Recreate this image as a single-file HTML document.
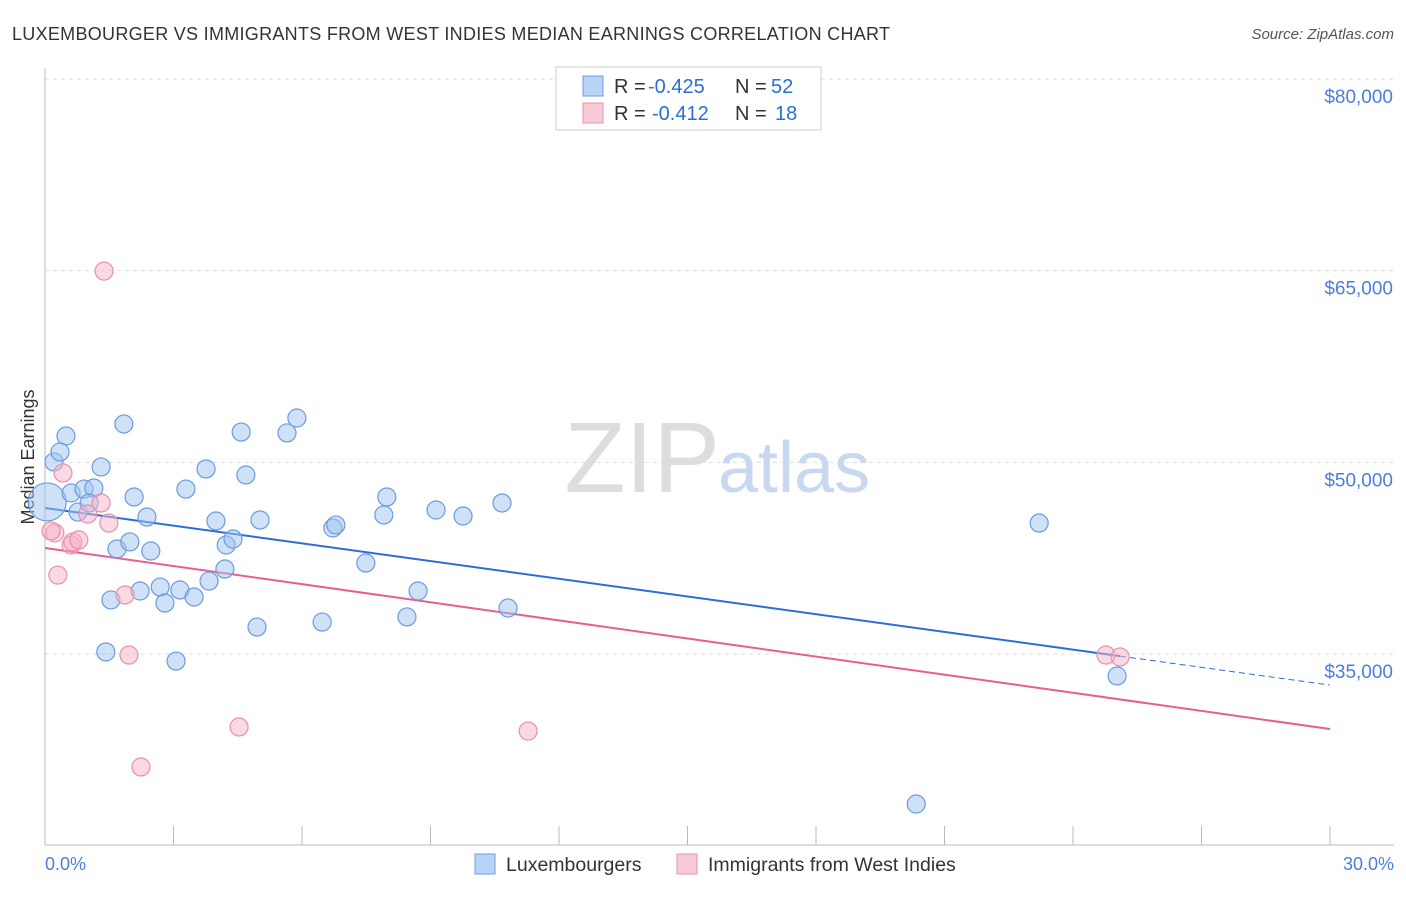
<!DOCTYPE html>
<html><head><meta charset="utf-8"><style>
body{margin:0;background:#fff;font-family:"Liberation Sans",sans-serif;}
svg text{font-family:"Liberation Sans",sans-serif;}
</style></head><body>
<svg width="1406" height="892">
<text x="12" y="40" font-size="18" fill="#333" textLength="878">LUXEMBOURGER VS IMMIGRANTS FROM WEST INDIES MEDIAN EARNINGS CORRELATION CHART</text>
<text x="1394" y="39" font-size="15" fill="#555" font-style="italic" text-anchor="end">Source: ZipAtlas.com</text>
<g id="grid"></g>
<text x="720" y="492" font-size="100" fill="#ddd" text-anchor="end" font-family="Liberation Serif">ZIP</text>
<text x="718" y="492" font-size="72" fill="#c8d8f0">atlas</text>
<line x1="45" y1="68" x2="45" y2="845" stroke="#bbb"/>
<line x1="45" y1="845" x2="1394" y2="845" stroke="#bbb"/>
<g id="ticks"></g>
<text x="34" y="457" font-size="18" fill="#333" text-anchor="middle" transform="rotate(-90 34 457)">Median Earnings</text>
<text x="45" y="870" font-size="18" fill="#4a7fd8">0.0%</text>
<text x="1394" y="870" font-size="18" fill="#4a7fd8" text-anchor="end">30.0%</text>
<g id="lines"></g>
<g id="pts"></g>
<g>
<rect x="556" y="67" width="265" height="63" fill="#fff" stroke="#ccc"/>
<rect x="583" y="76" width="20" height="20" fill="#b9d3f5" stroke="#6a9be0"/>
<rect x="583" y="103" width="20" height="20" fill="#f9cad8" stroke="#e890aa"/>
<text x="614" y="93" font-size="20" fill="#333">R =</text>
<text x="648" y="93" font-size="20" fill="#2b6ed8">-0.425</text>
<text x="735" y="93" font-size="20" fill="#333">N =</text>
<text x="771" y="93" font-size="20" fill="#2b6ed8">52</text>
<text x="614" y="120" font-size="20" fill="#333">R =</text>
<text x="652" y="120" font-size="20" fill="#2b6ed8">-0.412</text>
<text x="735" y="120" font-size="20" fill="#333">N =</text>
<text x="775" y="120" font-size="20" fill="#2b6ed8">18</text>
</g>
<g>
<rect x="475" y="854" width="20" height="20" fill="#b9d3f5" stroke="#6a9be0"/>
<text x="506" y="871" font-size="19.5" fill="#333">Luxembourgers</text>
<rect x="677" y="854" width="20" height="20" fill="#f9cad8" stroke="#e890aa"/>
<text x="708" y="871" font-size="19.5" fill="#333">Immigrants from West Indies</text>
</g>
</svg>
<script>
const yTicks=[80000,65000,50000,35000];
const yTickLabels=["$80,000","$65,000","$50,000","$35,000"];
const blueX=[0.49,0.21,0.35,0.05,0.61,0.91,1.14,0.77,1.03,1.31,1.84,2.08,2.38,1.68,1.98,2.47,1.54,1.42,2.22,2.69,2.80,3.06,3.15,3.29,3.48,3.76,3.83,3.99,4.23,4.20,4.39,4.58,4.69,4.95,5.02,5.65,5.88,6.47,6.72,6.79,7.49,7.91,7.98,8.45,8.71,9.13,9.76,10.67,10.81,20.34,23.21,25.03];
const blueY=[52.06,50.03,50.81,46.90,47.60,47.91,47.99,46.11,46.82,49.64,53.00,47.29,45.72,43.22,43.77,43.06,39.23,35.16,39.93,40.24,38.99,34.45,40.01,47.91,39.46,49.48,40.71,45.41,43.53,41.65,44.00,52.37,49.01,37.11,45.49,52.30,53.47,37.50,44.86,45.10,42.12,45.88,47.29,37.90,39.93,46.27,45.80,46.82,38.60,23.26,45.25,33.28];
const pinkX=[1.38,0.42,0.23,0.14,0.30,0.61,0.65,0.79,1.00,1.31,1.49,1.87,1.96,2.24,4.53,11.28,24.77,25.10];
const pinkY=[64.97,49.17,44.48,44.63,41.18,43.53,43.77,43.93,45.96,46.82,45.25,39.62,34.92,26.16,29.29,28.97,34.92,34.77];
const blueTrend=[46.43,32.57];
const pinkTrend=[43.30,29.13];
const NS="http://www.w3.org/2000/svg";
const X=v=>45+v/30*1285;
const Y=k=>79+(80-k)*12.778;
function mk(t,a,p){const e=document.createElementNS(NS,t);for(const k in a)e.setAttribute(k,a[k]);document.getElementById(p).appendChild(e);return e;}
yTicks.forEach((t,i)=>{
 const y=Y(t/1000);
 const l=mk('line',{x1:45,x2:1394,y1:y,y2:y,stroke:'#ddd','stroke-dasharray':'4,4'},'grid');
 
 
 const tx=mk('text',{x:1393,y:y+24,'font-size':19,fill:'#4a7fd8','text-anchor':'end'},'grid');
 tx.textContent=yTickLabels[i];
 
 
});
for(let i=1;i<=10;i++){
 const l=mk('line',{x1:X(i*3),x2:X(i*3),y1:826,y2:845,stroke:'#bbb'},'ticks');
 
 
}
const bEnd=25.1;
const bMid=blueTrend[0]+(blueTrend[1]-blueTrend[0])*bEnd/30;
let l=mk('line',{x1:X(0),y1:Y(blueTrend[0]),x2:X(bEnd),y2:Y(bMid),stroke:'#2b6ed8','stroke-width':2},'lines');


l=mk('line',{x1:X(bEnd),y1:Y(bMid),x2:X(30),y2:Y(blueTrend[1]),stroke:'#2b6ed8','stroke-width':1,'stroke-dasharray':'6,4'},'lines');


l=mk('line',{x1:X(0),y1:Y(pinkTrend[0]),x2:X(30),y2:Y(pinkTrend[1]),stroke:'#e8608a','stroke-width':2},'lines');


blueX.forEach((x,i)=>{
 const c=mk('circle',{cx:X(x),cy:Y(blueY[i]),r:i==3?19:9,fill:'rgba(160,196,240,0.5)',stroke:'#6a9be0','stroke-width':1.2},'pts');
 
 
});
pinkX.forEach((x,i)=>{
 const c=mk('circle',{cx:X(x),cy:Y(pinkY[i]),r:9,fill:'rgba(245,180,200,0.5)',stroke:'#e890aa','stroke-width':1.2},'pts');
 
 
});
</script>
</body></html>
